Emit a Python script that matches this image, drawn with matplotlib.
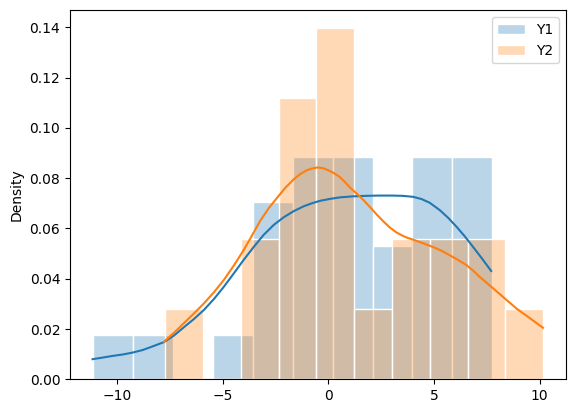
import numpy as np
import matplotlib
matplotlib.use("Agg")
import matplotlib.pyplot as plt
from matplotlib.colors import to_rgba

# histogram bins
y1_start, y1_width = -11.12, 1.888
y1_counts = [1, 1, 0, 1, 4, 5, 5, 3, 5, 5]
y2_start, y2_width = -7.71, 1.788
y2_counts = [1, 0, 2, 4, 5, 1, 2, 2, 2, 1]

# kde curves
y1_kde_x = [-11.15, -10.7, -10.2, -9.7, -9.27, -8.8, -8.4, -7.77, -7.3, -6.83, -6.35,
            -5.88, -5.4, -4.94, -4.47, -4.0, -3.52, -3.05, -2.58, -2.1, -1.63,
            -1.17, -0.78, -0.39, 0.1, 0.57, 1.2, 1.83, 2.4, 3.0, 3.5, 4.02, 4.42,
            4.81, 5.28, 5.68, 6.07, 6.46, 6.85, 7.28, 7.71]
y1_kde_y = [0.0080, 0.0086, 0.0093, 0.0099, 0.0106, 0.0116, 0.0128, 0.0148, 0.0174,
            0.0207, 0.0240, 0.0276, 0.0320, 0.0368, 0.0421, 0.0475, 0.0527, 0.0575,
            0.0614, 0.0645, 0.0669, 0.0688, 0.0700, 0.0710, 0.0718, 0.0724, 0.0728,
            0.0730, 0.0731, 0.0731, 0.0730, 0.0726, 0.0717, 0.0702, 0.0673, 0.0642,
            0.0607, 0.0569, 0.0527, 0.0480, 0.0431]
y2_kde_x = [-7.77, -7.3, -6.83, -6.35, -5.88, -5.4, -4.94, -4.47, -4.0, -3.6, -3.22,
            -2.82, -2.42, -2.03, -1.64, -1.3, -1.0, -0.75, -0.5, -0.25, 0.0, 0.25,
            0.5, 0.77, 1.04, 1.35, 1.67, 2.0, 2.3, 2.6, 2.9, 3.2, 3.5, 3.75, 4.0,
            4.5, 5.0, 5.37, 5.74, 6.14, 6.53, 6.85, 7.16, 7.48, 7.8, 8.35, 8.9,
            9.53, 10.16]
y2_kde_y = [0.0150, 0.0185, 0.0223, 0.0262, 0.0302, 0.0347, 0.0395, 0.0452, 0.0514,
            0.0573, 0.0630, 0.0680, 0.0722, 0.0762, 0.0795, 0.0818, 0.0832, 0.0839,
            0.0843, 0.0840, 0.0832, 0.0821, 0.0808, 0.0787, 0.0762, 0.0739, 0.0713,
            0.0683, 0.0655, 0.0629, 0.0605, 0.0586, 0.0572, 0.0563, 0.0556, 0.0541,
            0.0525, 0.0511, 0.0494, 0.0475, 0.0455, 0.0433, 0.0408, 0.0385, 0.0362,
            0.0322, 0.0282, 0.0244, 0.0205]


def draw_hist(ax, start, width, counts, color, label):
    counts = np.array(counts, dtype=float)
    edges = start + width * np.arange(len(counts) + 1)
    dens = counts / (counts.sum() * width)
    ax.bar(edges[:-1], dens, width=width, align="edge",
           facecolor=to_rgba(color, 0.3), edgecolor="white", linewidth=1,
           label=label)


fig = plt.figure(figsize=(5.75, 4.13), dpi=100)
ax = fig.add_axes([70 / 575, 33.7 / 413, 495.7 / 575, 369 / 413])

draw_hist(ax, y1_start, y1_width, y1_counts, "C0", "Y1")
draw_hist(ax, y2_start, y2_width, y2_counts, "C1", "Y2")
ax.plot(y1_kde_x, y1_kde_y, color="C0", lw=1.5)
ax.plot(y2_kde_x, y2_kde_y, color="C1", lw=1.5)

ax.set_ylabel("Density")
ax.legend(loc="upper right")

fig.savefig("out.png", dpi=100)
